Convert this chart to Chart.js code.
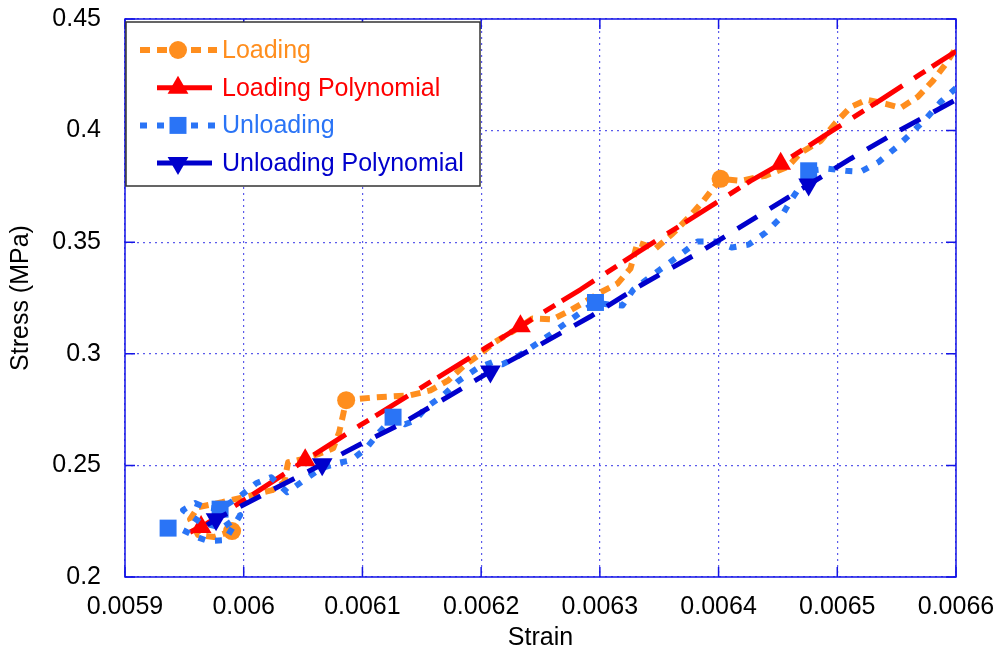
<!DOCTYPE html>
<html>
<head>
<meta charset="utf-8">
<script src="https://cdn.jsdelivr.net/npm/chart.js@4.4.0/dist/chart.umd.min.js"></script>
<style>
  html, body { margin: 0; padding: 0; background: #fff; }
</style>
</head>
<body>
<canvas id="stressChart" width="996" height="655"></canvas>
<script>
// ------------------------------------------------------------
// Stress vs strain: loading / unloading runs and their fits
// ------------------------------------------------------------

const loadStrain = [0.0059902, 0.0059750, 0.0059616, 0.0059548, 0.0059616, 0.0059818, 0.0060037, 0.0060240,
  0.0060341, 0.0060374, 0.0060492, 0.0060627, 0.0060754, 0.0060804, 0.0060838, 0.0060863, 0.0061108,
  0.0061403, 0.0061572, 0.0061724, 0.0061850, 0.0061977, 0.0062111, 0.0062280, 0.0062432, 0.0062601,
  0.0062735, 0.0062878, 0.0063005, 0.0063149, 0.0063258, 0.0063317, 0.0063469, 0.0063612, 0.0063763,
  0.0063873, 0.0064017, 0.0064185, 0.0064396, 0.0064582, 0.0064692, 0.0064860, 0.0064986, 0.0065113,
  0.0065248, 0.0065408, 0.0065535, 0.0065678, 0.0065805, 0.0065914, 0.0065999];
const loadStress = [0.2206, 0.2179, 0.2188, 0.2259, 0.2313, 0.2335, 0.2362, 0.2389,
  0.2425, 0.2514, 0.2528, 0.2550, 0.2577, 0.2648, 0.2729, 0.2792, 0.2805,
  0.2814, 0.2836, 0.2881, 0.2944, 0.2993, 0.3051, 0.3105, 0.3158, 0.3154,
  0.3190, 0.3234, 0.3275, 0.3315, 0.3382, 0.3498, 0.3471, 0.3538, 0.3619,
  0.3686, 0.3784, 0.3775, 0.3798, 0.3838, 0.3901, 0.3954, 0.4035, 0.4106,
  0.4138, 0.4120, 0.4102, 0.4151, 0.4223, 0.4299, 0.4370];
const loadMarks = [0, 15, 36];

const loadFitStrain = [0.0059548, 0.0059641, 0.0060054, 0.0060518, 0.0060982, 0.0061445, 0.0061909, 0.0062331,
  0.0062837, 0.0063342, 0.0063848, 0.0064270, 0.0064523, 0.0064945, 0.0065366, 0.0065703, 0.0066];
const loadFitStress = [0.2201, 0.2224, 0.2362, 0.2523, 0.2680, 0.2832, 0.2984, 0.3123,
  0.3288, 0.3462, 0.3632, 0.3775, 0.3851, 0.3995, 0.4138, 0.4254, 0.4355];
const loadFitMarks = [1, 3, 7, 12];

const unloadStrain = [0.0066, 0.0065872, 0.0065746, 0.0065619, 0.0065493, 0.0065350, 0.0065198, 0.0065071,
  0.0064919, 0.0064759, 0.0064692, 0.0064607, 0.0064523, 0.0064396, 0.0064253, 0.0064110, 0.0063975,
  0.0063823, 0.0063689, 0.0063553, 0.0063427, 0.0063283, 0.0063190, 0.0063072, 0.0062963, 0.0062861,
  0.0062710, 0.0062583, 0.0062423, 0.0062296, 0.0062179, 0.0062094, 0.0061966, 0.0061806, 0.0061680,
  0.0061537, 0.0061445, 0.0061359, 0.0061258, 0.0061150, 0.0061032, 0.0060905, 0.0060787, 0.0060652,
  0.0060509, 0.0060366, 0.0060231, 0.0060105, 0.0059970, 0.0059801, 0.0059675, 0.0059590, 0.0059489,
  0.0059632, 0.0059818, 0.0059970, 0.0059843, 0.0059700, 0.0059607, 0.0059489, 0.0059363];
const unloadStress = [0.4191, 0.4129, 0.4053, 0.3986, 0.3923, 0.3860, 0.3816, 0.3820,
  0.3829, 0.3820, 0.3753, 0.3686, 0.3610, 0.3543, 0.3489, 0.3476, 0.3503,
  0.3503, 0.3449, 0.3395, 0.3346, 0.3288, 0.3216, 0.3221, 0.3230, 0.3194,
  0.3136, 0.3087, 0.3029, 0.2984, 0.2953, 0.2962, 0.2935, 0.2877, 0.2814,
  0.2760, 0.2702, 0.2684, 0.2716, 0.2653, 0.2577, 0.2523, 0.2510, 0.2487,
  0.2434, 0.2380, 0.2447, 0.2420, 0.2362, 0.2304, 0.2313, 0.2331, 0.2300,
  0.2246, 0.2219, 0.2277, 0.2165, 0.2161, 0.2179, 0.2210, 0.2219];
const unloadMarks = [9, 24, 38, 49, 60];

const unloadFitStrain = [0.0059691, 0.0059767, 0.0060138, 0.0060661, 0.0060982, 0.0061319, 0.0061740, 0.0062078,
  0.0062499, 0.0062921, 0.0063342, 0.0063848, 0.0064270, 0.0064759, 0.0065113, 0.0065535, 0.0066];
const unloadFitStress = [0.2233, 0.2259, 0.2362, 0.2505, 0.2595, 0.2684, 0.2814, 0.2921,
  0.3042, 0.3167, 0.3306, 0.3458, 0.3597, 0.3758, 0.3874, 0.4004, 0.4138];
const unloadFitMarks = [1, 3, 7, 13];

const seriesNames = ["Loading", "Loading Polynomial", "Unloading", "Unloading Polynomial"];

const FONT = "'Liberation Sans', Arial, sans-serif";
const FONT_SIZE = 25;

const pts = (xs, ys) => xs.map((x, i) => ({ x, y: ys[i] }));
const radii = (xs, marks, r) => xs.map((_, i) => marks.includes(i) ? r : 0);

function series(name, xs, ys, marks, style) {
  return {
    label: name,
    data: pts(xs, ys),
    showLine: true,
    borderColor: style.color,
    backgroundColor: style.color,
    borderWidth: style.width,
    borderDash: style.dash,
    borderCapStyle: "butt",
    borderJoinStyle: "round",
    pointStyle: style.marker,
    rotation: style.rotation || 0,
    pointRadius: radii(xs, marks, style.r),
    pointBorderWidth: 0,
    pointHoverRadius: 0,
    pointBackgroundColor: style.color,
    order: style.order,
    legendSample: style.sample,
    legendRadius: style.r,
  };
}

const datasets = [
  series(seriesNames[0], loadStrain, loadStress, loadMarks,
    { color: "#ff8e1e", width: 6, dash: [10, 7], marker: "circle", r: 9, order: 4, sample: [140, 217] }),
  series(seriesNames[1], loadFitStrain, loadFitStress, loadFitMarks,
    { color: "#ff0000", width: 5, dash: [38, 14, 13, 8], marker: "triangle", r: 12, order: 3, sample: [157, 212] }),
  series(seriesNames[2], unloadStrain, unloadStress, unloadMarks,
    { color: "#2a74f6", width: 6, dash: [7, 10], marker: "rect", r: 12, order: 2, sample: [140, 217] }),
  series(seriesNames[3], unloadFitStrain, unloadFitStress, unloadFitMarks,
    { color: "#0000cc", width: 5, dash: [23, 15], marker: "triangle", rotation: 180, r: 12, order: 1, sample: [157, 212] }),
];

// plot frame with inward tick marks on all four sides
const frame = {
  id: "frame",
  beforeDatasetsDraw(chart) {
    const { ctx, chartArea: a, scales: { x, y } } = chart;
    ctx.save();
    ctx.strokeStyle = "#1414e6";
    ctx.lineWidth = 1.5;
    ctx.strokeRect(a.left, a.top, a.right - a.left, a.bottom - a.top);
    ctx.beginPath();
    x.ticks.forEach(t => {
      const px = x.getPixelForValue(t.value);
      ctx.moveTo(px, a.bottom); ctx.lineTo(px, a.bottom - 10);
      ctx.moveTo(px, a.top); ctx.lineTo(px, a.top + 10);
    });
    y.ticks.forEach(t => {
      const py = y.getPixelForValue(t.value);
      ctx.moveTo(a.left, py); ctx.lineTo(a.left + 10, py);
      ctx.moveTo(a.right, py); ctx.lineTo(a.right - 10, py);
    });
    ctx.stroke();
    ctx.restore();
  }
};

function marker(ctx, ds, x, y) {
  ctx.fillStyle = ds.pointBackgroundColor;
  Chart.helpers.drawPoint(ctx, {
    pointStyle: ds.pointStyle, rotation: ds.rotation, radius: ds.legendRadius, borderWidth: 0
  }, x, y);
}

// boxed legend in the top-left corner, line sample + marker per series
const legendBox = {
  id: "legendBox",
  afterDatasetsDraw(chart) {
    const { ctx, chartArea: a } = chart;
    const bx = a.left + 1, by = 22, bw = 354, bh = 164;
    ctx.save();
    ctx.fillStyle = "#fff";
    ctx.fillRect(bx, by, bw, bh);
    ctx.strokeStyle = "#333";
    ctx.lineWidth = 1.5;
    ctx.strokeRect(bx, by, bw, bh);
    ctx.font = FONT_SIZE + "px " + FONT;
    ctx.textBaseline = "middle";
    chart.data.datasets.forEach((ds, i) => {
      const y = by + 28 + i * 37.7;
      const [x0, x1] = ds.legendSample;
      ctx.save();
      ctx.strokeStyle = ds.borderColor;
      ctx.lineWidth = ds.borderWidth;
      ctx.lineCap = "butt";
      ctx.setLineDash(ds.label.includes("Polynomial") ? [] : ds.borderDash);
      ctx.beginPath();
      ctx.moveTo(x0, y); ctx.lineTo(x1, y);
      ctx.stroke();
      ctx.restore();
      marker(ctx, ds, 178, y);
      ctx.fillStyle = ds.borderColor;
      ctx.fillText(ds.label, 222, y + 1);
    });
    ctx.restore();
  }
};

// fixed axis boxes; label overflow must not shrink the plot area
const fitX = s => { s.height = 78; s.paddingLeft = 0; s.paddingRight = 0; };
const fitY = s => { s.width = 125; s.paddingTop = 0; s.paddingBottom = 0; };

new Chart(document.getElementById("stressChart"), {
  type: "scatter",
  data: { datasets },
  plugins: [frame, legendBox],
  options: {
    responsive: false,
    devicePixelRatio: 1,
    animation: false,
    events: [],
    layout: { padding: { top: 19, right: 40, left: 0, bottom: 0 } },
    plugins: { legend: { display: false }, tooltip: { enabled: false } },
    scales: {
      x: {
        type: "linear", min: 0.0059, max: 0.0066,
        afterFit: fitX,
        grid: { color: "rgba(50,50,230,0.8)", lineWidth: 1.2, drawTicks: false },
        border: { display: false, dash: [2, 4] },
        ticks: {
          stepSize: 0.0001, autoSkip: false, maxRotation: 0, padding: 15,
          color: "#000", font: { family: FONT, size: FONT_SIZE },
          callback: v => String(+v.toFixed(4))
        },
        title: { display: true, text: "Strain", color: "#000", font: { family: FONT, size: FONT_SIZE }, padding: { bottom: 2 } }
      },
      y: {
        type: "linear", min: 0.2, max: 0.45,
        afterFit: fitY,
        grid: { color: "rgba(50,50,230,0.8)", lineWidth: 1.2, drawTicks: false },
        border: { display: false, dash: [2, 4] },
        ticks: {
          stepSize: 0.05, padding: 24,
          color: "#000", font: { family: FONT, size: FONT_SIZE },
          callback: v => String(+v.toFixed(2))
        },
        title: { display: true, text: "Stress (MPa)", color: "#000", font: { family: FONT, size: FONT_SIZE }, padding: { top: 6 } }
      }
    }
  }
});
</script>
</body>
</html>
